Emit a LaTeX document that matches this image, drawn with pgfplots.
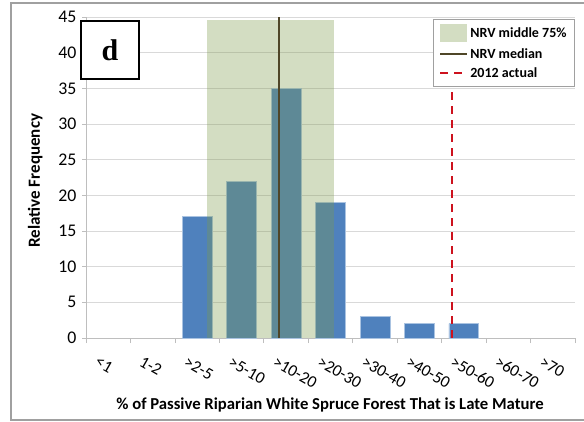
\documentclass[border=0pt]{standalone}
\usepackage{pgfplots}
\pgfplotsset{compat=1.18}
\usepackage{fontspec}
\setmainfont{Carlito}
\newfontfamily\serifd{Liberation Serif}
\definecolor{barblue}{RGB}{79,129,189}
\definecolor{baredge}{RGB}{170,195,225}
\definecolor{nrvfill}{RGB}{124,153,73}
\definecolor{nrvmed}{RGB}{79,70,40}
\definecolor{actred}{RGB}{205,18,30}
\definecolor{gridgray}{RGB}{217,217,217}
\definecolor{axgray}{RGB}{190,190,190}
\definecolor{framegray}{RGB}{160,160,160}
\begin{document}
\begin{tikzpicture}[x=1pt,y=1pt]
\useasboundingbox (0,0) rectangle (584,421);
\draw[framegray, line width=1.2pt] (11,1) rectangle (640,418);
\begin{axis}[at={(86pt,83pt)}, anchor=south west, scale only axis,
  width=489pt, height=321pt,
  xmin=-0.5, xmax=10.5, ymin=0, ymax=45,
  axis x line*=bottom, axis y line*=left,
  axis line style={axgray, line width=0.8pt},
  ytick={0,5,...,45}, ymajorgrids, grid style={gridgray, line width=0.9pt},
  xtick={0,...,10},
  xticklabels={{<1},{1-2},{>2-5},{>5-10},{>10-20},{>20-30},{>30-40},{>40-50},{>50-60},{>60-70},{>70}},
  minor xtick={-0.5,0.5,...,10.5},
  tick align=outside, major tick length=4pt, minor tick length=5pt,
  major x tick style={draw=none},
  minor x tick style={axgray, line width=0.8pt},
  y tick style={axgray, line width=0.8pt},
  /pgf/number format/assume math mode=true,
  yticklabel style={font=\fontsize{17.8}{20}\selectfont, xshift=-2pt},
  xticklabel style={rotate=-30, anchor=north west, inner sep=0pt, font=\fontsize{16.8}{19}\selectfont, yshift=-16pt, xshift=-1pt},
  xlabel={\% of Passive Riparian White Spruce Forest That is Late Mature},
  xlabel style={at={(axis description cs:0.499,0)}, anchor=center, yshift=-67pt, font=\bfseries\fontsize{16.7}{19}\selectfont},
  ylabel={Relative Frequency},
  ylabel style={at={(axis description cs:-0.104,0.49)}, anchor=center, font=\bfseries\fontsize{17}{19}\selectfont},
  legend style={at={(1,1)}, anchor=north east, yshift=-2pt, draw=framegray, line width=0.8pt, fill=white,
    font=\bfseries\fontsize{14}{16}\selectfont, row sep=4pt, inner xsep=6pt, inner ysep=5pt},
  legend cell align=left,
]
% bars
\addplot[ybar, bar width=0.67, fill=barblue, draw=baredge, line width=0.6pt, forget plot]
  coordinates {(2,17) (3,22) (4,35) (5,19) (6,3) (7,2) (8,2)};
% NRV middle 75% shading
\addplot[fill=nrvfill, fill opacity=0.335, draw=none, forget plot]
  coordinates {(2.22,0) (2.22,44.6) (5.08,44.6) (5.08,0)} -- cycle;
% NRV median
\addplot[nrvmed, line width=2pt, forget plot] coordinates {(3.85,0) (3.85,45)};
% 2012 actual
\addplot[actred, line width=2.2pt, dash pattern=on 8pt off 6pt, forget plot] coordinates {(7.73,0) (7.73,45)};
\addlegendimage{legend image code/.code={\fill[nrvfill, fill opacity=0.335, draw=none] (0pt,-9pt) rectangle (27pt,9pt);}}
\addlegendentry{NRV middle 75\%}
\addlegendimage{legend image code/.code={\draw[nrvmed, line width=2pt] (0pt,0pt) -- (27pt,0pt);}}
\addlegendentry{NRV median}
\addlegendimage{legend image code/.code={\draw[actred, line width=2.2pt, dash pattern=on 8pt off 6pt] (0pt,0pt) -- (27pt,0pt);}}
\addlegendentry{2012 actual}
\end{axis}
\node[draw=black, line width=1.5pt, fill=white, minimum width=58pt, minimum height=58pt, inner sep=0pt]
  at (110,371) {\serifd\bfseries\fontsize{30}{32}\selectfont d};
\end{tikzpicture}
\end{document}
